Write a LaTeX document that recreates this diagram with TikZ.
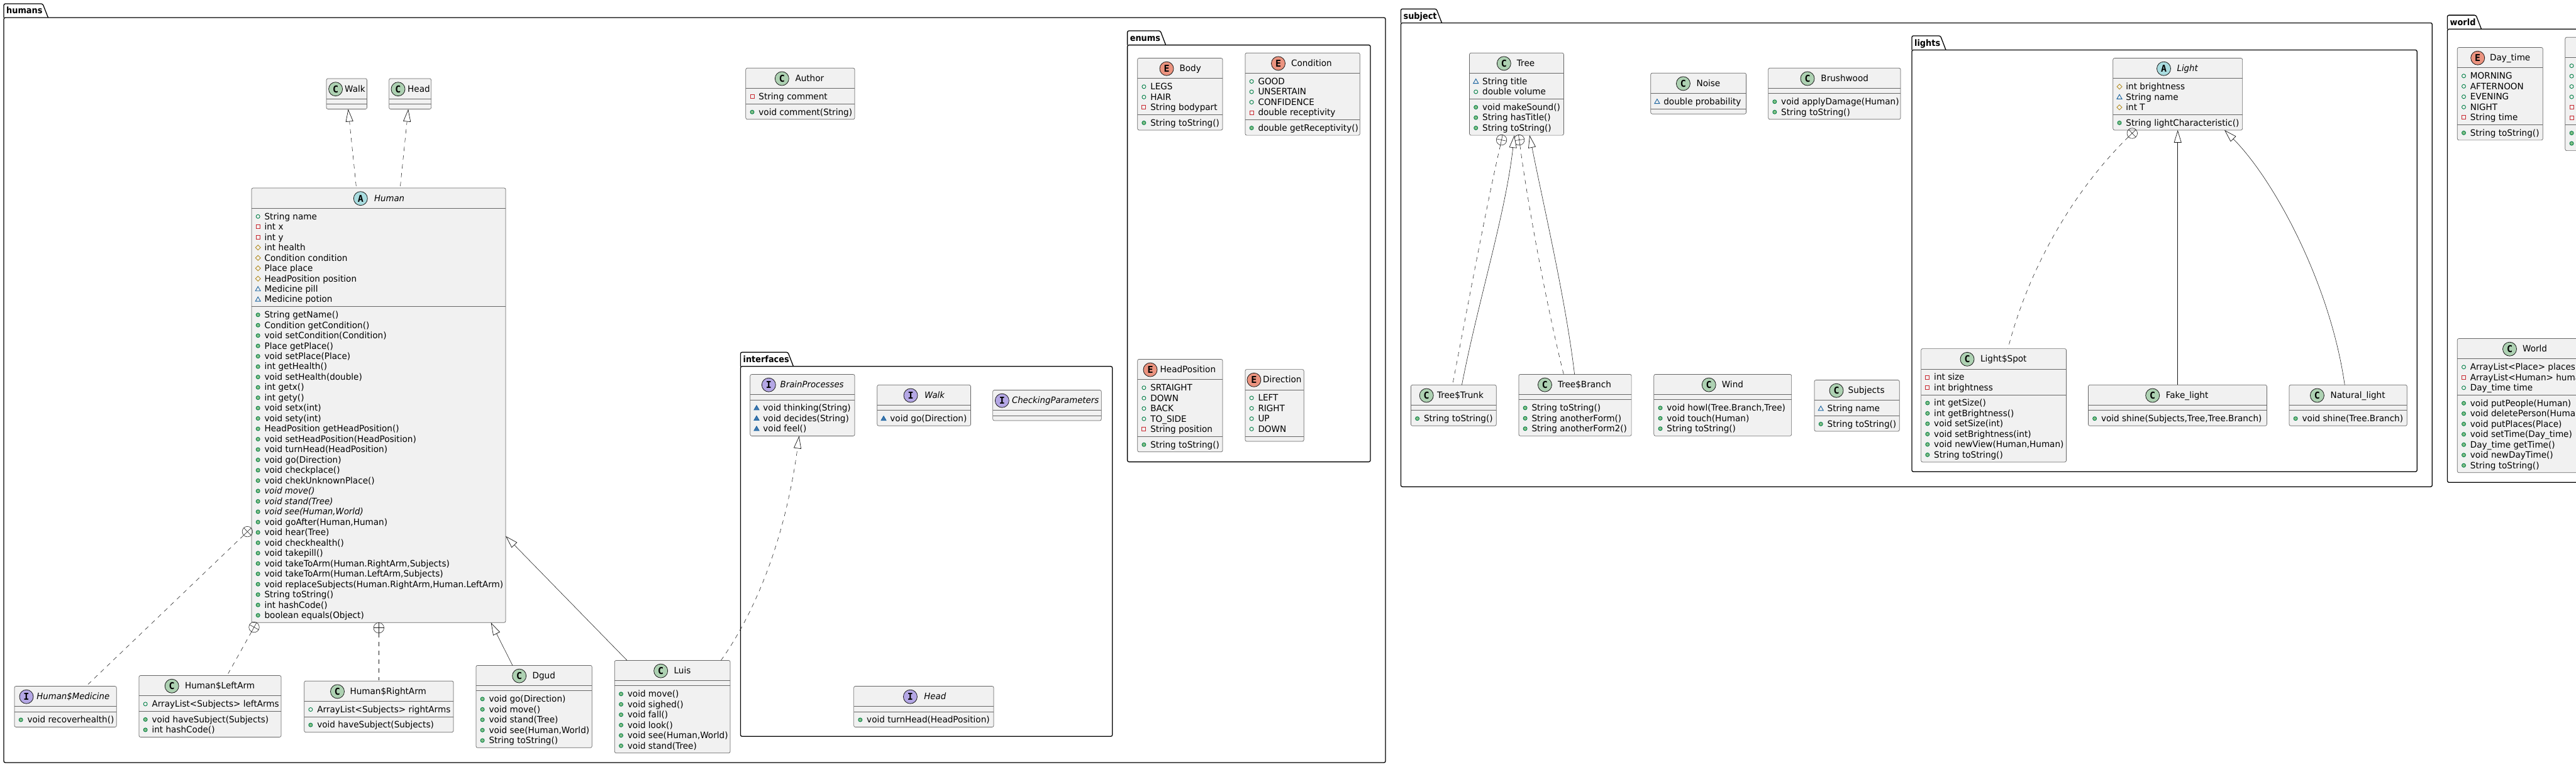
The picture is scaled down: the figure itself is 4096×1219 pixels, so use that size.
\documentclass[tikz,border=0pt]{standalone}
\usepackage{fontspec}
\setmainfont{DejaVu Sans}[FakeStretch=0.97,BoldFeatures={FakeStretch=0.92},ItalicFeatures={FakeStretch=0.95}]
\newfontfamily\letterfont{DejaVu Sans Mono}[BoldFont={DejaVu Sans Mono Bold}]
\usetikzlibrary{arrows.meta}
\definecolor{boxfill}{HTML}{F1F1F1}
\definecolor{boxline}{HTML}{666666}
\definecolor{cone}{HTML}{181818}
\definecolor{circC}{HTML}{ADD1B2}
\definecolor{circA}{HTML}{A9DCDF}
\definecolor{circI}{HTML}{B4A7E5}
\definecolor{circE}{HTML}{EB937F}
\definecolor{publ}{HTML}{038048}
\definecolor{publf}{HTML}{84BE84}
\definecolor{priv}{HTML}{C82930}
\definecolor{prot}{HTML}{B38D22}
\definecolor{pack}{HTML}{1963A0}
\definecolor{packf}{HTML}{4177AF}
\tikzset{
  umlbox/.style={draw=boxline,fill=boxfill,line width=.7pt,rounded corners=2.5pt,inner sep=0pt,outer sep=0pt,anchor=north west},
  usep/.style={draw=boxline,line width=.7pt},
  pkgline/.style={draw=black,line width=1.3pt},
  pkgbody/.style={pkgline,rounded corners=2.5pt,inner sep=0pt,outer sep=0pt,anchor=north west},
  pkglabel/.style={inner sep=0pt,anchor=base west,font=\fontsize{14}{16}\selectfont\bfseries},
  rowtext/.style={inner sep=0pt,anchor=base west,text=black,font=\fontsize{14}{16}\selectfont},
  titletext/.style={rowtext},
  ucirc/.style={circle,draw=cone,line width=.8pt,minimum size=22pt,inner sep=0pt,outer sep=0pt,font=\letterfont\fontsize{15}{16}\selectfont\bfseries},
  nestnode/.style={circle,draw=cone,line width=.55pt,minimum size=16.5pt,inner sep=0pt,outer sep=0pt},
  link/.style={draw=cone,line width=.55pt},
  dep/.style={link,dash pattern=on 7pt off 7pt},
  gen/.style={-{Triangle[length=20pt,width=12pt,fill=white,line width=.7pt]}},
}
\newcount\rowc
\def\mkpf#1#2{\draw[publ,line width=.9pt] (#1,#2) circle (3pt);}
\def\mkpm#1#2{\draw[publ,fill=publf,line width=.9pt] (#1,#2) circle (3pt);}
\def\mkvf#1#2{\draw[priv,line width=.9pt] (#1-3,#2-3) rectangle (#1+3,#2+3);}
\def\mktf#1#2{\draw[prot,line width=.9pt] (#1-4,#2) -- (#1,#2-4) -- (#1+4,#2) -- (#1,#2+4) -- cycle;}
\def\mkkf#1#2{\draw[pack,line width=.9pt] (#1-4,#2+3) -- (#1+4,#2+3) -- (#1,#2-4) -- cycle;}
\def\mkkm#1#2{\draw[pack,fill=packf,line width=.9pt] (#1-4,#2+3) -- (#1+4,#2+3) -- (#1,#2-4) -- cycle;}
% name, x1, x2, y1, fields, methods
\newcommand\ubox[6]{%
  \pgfmathsetmacro\ya{#4+32.3}%
  \pgfmathsetmacro\yb{\ya+#5*16.48+8.1}%
  \pgfmathsetmacro\yc{\yb+#6*16.48+8.1}%
  \pgfmathsetmacro\bw{#3-#2}%
  \pgfmathsetmacro\bh{\yc-#4}%
  \node[umlbox,minimum width=\bw pt,minimum height=\bh pt] (#1) at (#2,#4) {};%
  \draw[usep] (#2,\ya) -- (#3,\ya);%
  \draw[usep] (#2,\yb) -- (#3,\yb);%
  \def\bname{#1}\def\curx{#2}\def\topy{#4}%
  \pgfmathsetmacro\cury{\ya+4.05}%
  \rowc=0 }
% kind, circle x, text x, title
\newcommand\utitle[4]{%
  \pgfmathsetmacro\cy{\topy+16.7}\pgfmathsetmacro\ty{\topy+21}%
  \node[ucirc,fill=circ#1] (\bname-c) at (#2,\cy) {#1};%
  \node[titletext] (\bname-t) at (#3,\ty) {#4};}
\newcommand\urow[2]{%
  \advance\rowc by 1
  \pgfmathsetmacro\mx{\curx+10.2}\pgfmathsetmacro\my{\cury+9}\pgfmathsetmacro\tx{\curx+20.4}\pgfmathsetmacro\by{\cury+13.8}%
  \csname mk#1\endcsname{\mx}{\my}%
  \node[rowtext] (\bname-\the\rowc) at (\tx,\by) {#2};%
  \pgfmathsetmacro\cury{\cury+16.48}}
\newcommand\usec{\pgfmathsetmacro\cury{\yb+4.05}}
% name, x1, x2, ytop, ybody, ybottom, tabright, label
\newcommand\upkg[8]{%
  \pgfmathsetmacro\bw{#3-#2}\pgfmathsetmacro\bh{#6-#5}%
  \node[pkgbody,minimum width=\bw pt,minimum height=\bh pt] (#1) at (#2,#5) {};%
  \pgfmathsetmacro\ly{#5-6.3}\pgfmathsetmacro\lx{#2+4}%
  \pgfmathsetmacro\tb{#7-8.6}%
  \draw[pkgline,rounded corners=2.5pt] (#2,#5) -- (#2,#4) -- (\tb,#4) -- (#7,#5);%
  \node[pkglabel] (#1-label) at (\lx,\ly) {#8};}
% name, x, y, angle
\newcommand\unest[4]{%
  \node[nestnode] (#1) at (#2,#3) {};%
  \pgfmathsetmacro\aa{#4}\pgfmathsetmacro\ab{#4+180}\pgfmathsetmacro\ac{#4+90}\pgfmathsetmacro\ad{#4+270}%
  \draw[link] (#1.\aa) -- (#1.\ab);%
  \draw[link] (#1.\ac) -- (#1.\ad);}
\begin{document}
\begin{tikzpicture}[x=1pt,y=-1pt]
\useasboundingbox (0,0) rectangle (4096,1219);
\fill[white] (0,0) rectangle (4096,1219);
\clip (0,0) rectangle (4096,1219);

\upkg{humans}{6}{2203}{6}{28}{1213}{76.5}{humans}
\upkg{enums}{1792.6}{2179}{49}{71.6}{734.6}{1853.6}{enums}
\upkg{interfaces}{1177.4}{1768.7}{560.3}{582.8}{1171.3}{1261.5}{interfaces}
\upkg{subject}{2227.4}{3867.3}{14.2}{36.4}{774.2}{2292.5}{subject}
\upkg{lights}{3039.9}{3843.2}{57}{79.5}{750.3}{3094}{lights}
\upkg{world}{3891.5}{4300}{24.1}{46.3}{767.3}{3945.5}{world}

% ---- humans
\ubox{cwalk}{519}{583.5}{125}{0}{0}\utitle{C}{533.6}{548}{Walk}
\ubox{chead}{618.6}{685.6}{125}{0}{0}\utitle{C}{633}{648}{Head}
\ubox{human}{400}{804}{299}{9}{30}\utitle{A}{573.3}{595}{\itshape Human}
\urow{pf}{String name}\urow{vf}{int x}\urow{vf}{int y}\urow{tf}{int health}\urow{tf}{Condition condition}\urow{tf}{Place place}\urow{tf}{HeadPosition position}\urow{kf}{Medicine pill}\urow{kf}{Medicine potion}\usec
\urow{pm}{String getName()}\urow{pm}{Condition getCondition()}\urow{pm}{void setCondition(Condition)}\urow{pm}{Place getPlace()}\urow{pm}{void setPlace(Place)}\urow{pm}{int getHealth()}\urow{pm}{void setHealth(double)}\urow{pm}{int getx()}\urow{pm}{int gety()}\urow{pm}{void setx(int)}\urow{pm}{void sety(int)}\urow{pm}{HeadPosition getHeadPosition()}\urow{pm}{void setHeadPosition(HeadPosition)}\urow{pm}{void turnHead(HeadPosition)}\urow{pm}{void go(Direction)}\urow{pm}{void checkplace()}\urow{pm}{void chekUnknownPlace()}\urow{pm}{\itshape void move()}\urow{pm}{\itshape void stand(Tree)}\urow{pm}{\itshape void see(Human,World)}\urow{pm}{void goAfter(Human,Human)}\urow{pm}{void hear(Tree)}\urow{pm}{void checkhealth()}\urow{pm}{void takepill()}\urow{pm}{void takeToArm(Human.RightArm,Subjects)}\urow{pm}{void takeToArm(Human.LeftArm,Subjects)}\urow{pm}{void replaceSubjects(Human.RightArm,Human.LeftArm)}\urow{pm}{String toString()}\urow{pm}{int hashCode()}\urow{pm}{boolean equals(Object)}
\ubox{medicine}{23}{185.2}{1091.5}{0}{1}\utitle{I}{42}{58.2}{\itshape Human\$Medicine}\usec\urow{pm}{void recoverhealth()}
\ubox{leftarm}{221}{447}{1074.5}{1}{2}\utitle{C}{273.2}{293.9}{Human\$LeftArm}\urow{pf}{ArrayList<Subjects> leftArms}\usec\urow{pm}{void haveSubject(Subjects)}\urow{pm}{int hashCode()}
\ubox{rightarm}{483.7}{721}{1083.2}{1}{1}\utitle{C}{536.5}{556.4}{Human\$RightArm}\urow{pf}{ArrayList<Subjects> rightArms}\usec\urow{pm}{void haveSubject(Subjects)}
\ubox{dgud}{756.9}{941.3}{1058.4}{0}{5}\utitle{C}{825.7}{846.4}{Dgud}\usec\urow{pm}{void go(Direction)}\urow{pm}{void move()}\urow{pm}{void stand(Tree)}\urow{pm}{void see(Human,World)}\urow{pm}{String toString()}
\ubox{luis}{977.3}{1161}{1050.4}{0}{6}\utitle{C}{1050.7}{1071.4}{Luis}\usec\urow{pm}{void move()}\urow{pm}{void sighed()}\urow{pm}{void fall()}\urow{pm}{void look()}\urow{pm}{void see(Human,World)}\urow{pm}{void stand(Tree)}
\ubox{author}{1185.8}{1359}{108.3}{1}{1}\utitle{C}{1243.3}{1264.3}{Author}\urow{vf}{String comment}\usec\urow{pm}{void comment(String)}

% ---- enums
\ubox{body}{1808.7}{1944}{92.5}{3}{1}\utitle{E}{1855}{1875.4}{Body}\urow{pf}{LEGS}\urow{pf}{HAIR}\urow{vf}{String bodypart}\usec\urow{pm}{String toString()}
\ubox{condition}{1979.9}{2162.3}{84.2}{4}{1}\utitle{E}{2032.5}{2052.8}{Condition}\urow{pf}{GOOD}\urow{pf}{UNSERTAIN}\urow{pf}{CONFIDENCE}\urow{vf}{double receptivity}\usec\urow{pm}{double getReceptivity()}
\ubox{headpos}{1808.7}{1944}{571.4}{5}{1}\utitle{E}{1829}{1844.5}{HeadPosition}\urow{pf}{SRTAIGHT}\urow{pf}{DOWN}\urow{pf}{BACK}\urow{pf}{TO\_SIDE}\urow{vf}{String position}\usec\urow{pm}{String toString()}
\ubox{direction}{1979.9}{2073.2}{587.6}{4}{0}\utitle{E}{1993.9}{2008}{Direction}\urow{pf}{LEFT}\urow{pf}{RIGHT}\urow{pf}{UP}\urow{pf}{DOWN}

% ---- interfaces
\ubox{brain}{1192.8}{1359}{595.5}{0}{3}\utitle{I}{1222.3}{1240.5}{\itshape BrainProcesses}\usec\urow{km}{void thinking(String)}\urow{km}{void decides(String)}\urow{km}{void feel()}
\ubox{iwalk}{1394.8}{1543.5}{612.3}{0}{1}\utitle{I}{1448}{1469.9}{\itshape Walk}\usec\urow{km}{void go(Direction)}
\ubox{checking}{1578.6}{1751.2}{620.5}{0}{0}\utitle{I}{1593.3}{1608.8}{\itshape CheckingParameters}
\ubox{ihead}{1357.6}{1580}{1091.5}{0}{1}\utitle{I}{1447.4}{1469.2}{\itshape Head}\usec\urow{pm}{void turnHead(HeadPosition)}

% ---- subject
\ubox{tree}{2336.5}{2486.4}{84.2}{2}{3}\utitle{C}{2391.3}{2411.7}{Tree}\urow{kf}{String title}\urow{pf}{double volume}\usec\urow{pm}{void makeSound()}\urow{pm}{String hasTitle()}\urow{pm}{String toString()}
\ubox{noise}{2624.7}{2776.5}{116.2}{1}{0}\utitle{C}{2676.4}{2697.4}{Noise}\urow{kf}{double probability}
\ubox{brushwood}{2811.6}{3022}{108.3}{0}{2}\utitle{C}{2874}{2895.2}{Brushwood}\usec\urow{pm}{void applyDamage(Human)}\urow{pm}{String toString()}
\ubox{trunk}{2243.4}{2379.2}{612.3}{0}{1}\utitle{C}{2268.2}{2284.8}{Tree\$Trunk}\usec\urow{pm}{String toString()}
\ubox{branch}{2414.9}{2594.1}{595.4}{0}{3}\utitle{C}{2456.4}{2476.8}{Tree\$Branch}\usec\urow{pm}{String toString()}\urow{pm}{String anotherForm()}\urow{pm}{String anotherForm2()}
\ubox{wind}{2629.8}{2848.6}{595.4}{0}{3}\utitle{C}{2717.2}{2737.6}{Wind}\usec\urow{pm}{void howl(Tree.Branch,Tree)}\urow{pm}{void touch(Human)}\urow{pm}{String toString()}
\ubox{subjects}{2885}{3020.2}{604.5}{1}{1}\utitle{C}{2920}{2938.5}{Subjects}\urow{kf}{String name}\usec\urow{pm}{String toString()}

% ---- lights
\ubox{light}{3359.8}{3565.6}{92.5}{3}{1}\utitle{A}{3440.5}{3461.4}{\itshape Light}\urow{tf}{int brightness}\urow{kf}{String name}\urow{tf}{int T}\usec\urow{pm}{String lightCharacteristic()}
\ubox{spot}{3054.6}{3285.5}{554.6}{2}{6}\utitle{C}{3128}{3148.9}{Light\$Spot}\urow{vf}{int size}\urow{vf}{int brightness}\usec\urow{pm}{int getSize()}\urow{pm}{int getBrightness()}\urow{pm}{void setSize(int)}\urow{pm}{void setBrightness(int)}\urow{pm}{void newView(Human,Human)}\urow{pm}{String toString()}
\ubox{fake}{3320.4}{3604.4}{612.3}{0}{1}\utitle{C}{3422.7}{3443.6}{Fake\_light}\usec\urow{pm}{void shine(Subjects,Tree,Tree.Branch)}
\ubox{natural}{3639.9}{3827.3}{612.3}{0}{1}\utitle{C}{3684.4}{3705.4}{Natural\_light}\usec\urow{pm}{void shine(Tree.Branch)}

% ---- world
\ubox{daytime}{3907.3}{4043.3}{75.5}{5}{1}\utitle{E}{3939.7}{3958.8}{Day\_time}\urow{pf}{MORNING}\urow{pf}{AFTERNOON}\urow{pf}{EVENING}\urow{pf}{NIGHT}\urow{vf}{String time}\usec\urow{pm}{String toString()}
\ubox{cut}{4078.8}{4300}{59.3}{6}{2}\urow{pf}{}\urow{pf}{}\urow{pf}{}\urow{pf}{}\urow{vf}{}\urow{vf}{}\usec\urow{pm}{}\urow{pm}{}
\ubox{world1}{3907.3}{4123}{538.5}{3}{7}\utitle{C}{3990.5}{4010.9}{World}\urow{pf}{ArrayList<Place> places}\urow{vf}{ArrayList<Human> humans}\urow{pf}{Day\_time time}\usec\urow{pm}{void putPeople(Human)}\urow{pm}{void deletePerson(Human)}\urow{pm}{void putPlaces(Place)}\urow{pm}{void setTime(Day\_time)}\urow{pm}{Day\_time getTime()}\urow{pm}{void newDayTime()}\urow{pm}{String toString()}

% ---- nested markers
\unest{nmed}{393.4}{845.6}{44}
\unest{nleft}{404}{997.6}{61}
\unest{nright}{602.3}{998.7}{90}
\unest{ntrunk}{2387.5}{222.6}{78}
\unest{nbranch}{2415.6}{222.6}{98}
\unest{nspot}{3390.3}{212}{44}

% ---- connectors
\draw[dep,gen] ([xshift=166.3pt,yshift=3pt]human.north west) -- ([xshift=34.6pt]cwalk.south west);
\draw[dep,gen] ([xshift=236.5pt,yshift=3pt]human.north west) -- ([xshift=30.6pt]chead.south west);
\draw[dep] (nmed.-136) -- ([xshift=117pt,yshift=3pt]medicine.north west);
\draw[dep] (nleft.-119) -- ([xshift=141.7pt,yshift=3pt]leftarm.north west);
\draw[dep] (nright.-90) -- ([xshift=118.6pt,yshift=1pt]rightarm.north west);
\draw[link,gen] ([xshift=58.1pt]dgud.north west) -- ([xshift=380.6pt]human.south west);
\draw[link,gen] ([xshift=19.7pt]luis.north west) -- ([yshift=-553.7pt]human.north east);
\draw[dep,gen] ([xshift=169.1pt]luis.north west) .. controls (1200,975) and (1248,860) .. ([xshift=77.9pt]brain.south west);
\draw[dep] (ntrunk.-102) .. controls (2365,320) and (2335,480) .. ([xshift=66.9pt,yshift=4pt]trunk.north west);
\draw[link,gen] ([xshift=81pt]trunk.north west) .. controls (2350,480) and (2394,340) .. ([xshift=71.4pt]tree.south west);
\draw[dep] (nbranch.-82) .. controls (2430,330) and (2460,490) .. ([xshift=71.4pt]branch.north west);
\draw[link,gen] ([xshift=88.7pt]branch.north west) .. controls (2490,480) and (2455,330) .. ([xshift=95.6pt]tree.south west);
\draw[dep] (nspot.-136) .. controls (3310,290) and (3230,410) .. ([xshift=138.1pt]spot.north west);
\draw[link,gen] ([xshift=142.3pt]fake.north west) -- ([xshift=102.9pt]light.south west);
\draw[link,gen] ([xshift=88.3pt]natural.north west) .. controls (3705,450) and (3615,285) .. ([xshift=177.2pt]light.south west);
\end{tikzpicture}
\end{document}
